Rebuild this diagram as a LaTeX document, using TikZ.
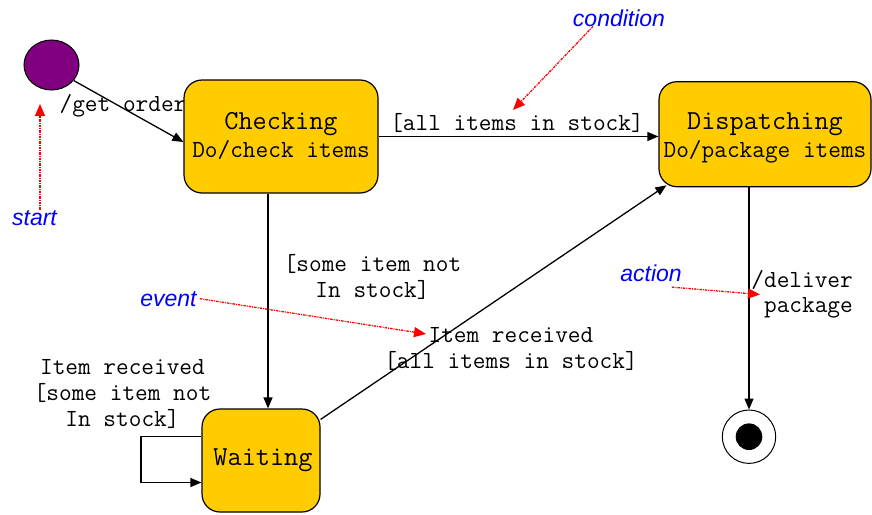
\documentclass[tikz,border=0pt]{standalone}
\usepackage{fontspec}
\setmainfont{Liberation Sans}
\setsansfont{Liberation Sans}
\usetikzlibrary{arrows.meta,shapes.geometric,backgrounds}
\definecolor{stategold}{HTML}{FFCC00}
\definecolor{initpurple}{HTML}{800080}
\begin{document}
\begin{tikzpicture}[x=1pt,y=-1pt,
  state/.style={draw=black,line width=1.2pt,fill=stategold,rounded corners=18pt,inner sep=0pt,align=center,font=\ttfamily\fontsize{24.6}{28}\selectfont},
  lbl/.style={inner sep=0pt,align=center,font=\ttfamily\fontsize{24.6}{25.7}\selectfont},
  note/.style={font=\sffamily\itshape\fontsize{23}{27}\selectfont,text=blue,inner sep=0pt},
  arr/.style={draw=black,line width=1.3pt,-{Triangle[length=11pt,width=9pt]}},
  notearr/.style={draw=red,line width=1.3pt,dash pattern=on 2.5pt off 1pt on 1pt off 1pt,-{Triangle[length=12pt,width=10pt]}}
]
\useasboundingbox (0,0) rectangle (872,514);

% states
\node[ellipse,draw=black,line width=1pt,fill=initpurple,minimum width=55pt,minimum height=50pt,inner sep=0pt] (init) at (51.5,65) {};
\node[state,minimum width=194pt,minimum height=113pt] (check) at (281,136.5)
  {\rule{0pt}{20pt}{\fontsize{27.5}{28}\selectfont Checking}\\Do/check items\rule[-6pt]{0pt}{6pt}};
\node[state,minimum width=212pt,minimum height=105pt] (disp) at (765,134.2)
  {\rule{0pt}{24pt}{\fontsize{27.5}{28}\selectfont Dispatching}\\Do/package items\rule[-5.8pt]{0pt}{5.8pt}};
\node[state,minimum width=118pt,minimum height=103pt,font=\ttfamily\fontsize{27.5}{28}\selectfont] (wait) at (261,460.5) {\hspace*{4pt}Waiting};
\node[circle,draw=black,line width=1pt,minimum size=53.4pt,inner sep=0pt] (final) at (749,436.7) {};
\node[circle,fill=black,minimum size=26.6pt,inner sep=0pt] (finaldot) at (final) {};

\begin{scope}[on background layer]
\fill[white] (0,0) rectangle (872,514);
\node[lbl,anchor=base] (getorder) at (123,111) {/get order};
\draw[arr] (init.-35) -- ([yshift=-5.5pt]check.west);
\end{scope}

% labels
\node[lbl,anchor=base] (stockall) at (517,130) {[all items in stock]};
\node[lbl,anchor=base] (notstock) at (372.5,297.3) {[some item not\\In stock]};
\node[lbl,anchor=base] (selflbl) at (122.5,426) {Item received\\{[}some item not\\In stock]};
\node[lbl,anchor=base] (recvlbl) at (511,368.3) {Item received\\{[}all items in stock]};
\node[lbl,anchor=base east,align=right] (deliver) at (853,312.7) {/deliver\\package};

% transitions
\draw[arr] (check.east) -- (check.east -| disp.west);
\coordinate (cw) at ([xshift=-13pt]check.south);
\draw[arr] (cw) -- (cw |- wait.north);
\draw[arr] ([yshift=-11pt]wait.north east) -- ([xshift=8pt,yshift=2pt]disp.south west);
\draw[arr] ([yshift=24pt]wait.west) -- ++(-60.3,0) |- ([yshift=-22pt]wait.west);
\draw[arr] (final |- disp.south) -- (final);

% annotations
\node[note,anchor=base] (startlbl) at (34.5,225) {start};
\node[note,anchor=base] (condlbl) at (619,26) {condition};
\node[note,anchor=base] (eventlbl) at (168.5,306) {event};
\node[note,anchor=base] (actionlbl) at (651,281.7) {action};
\coordinate (startpt) at (40,104);
\coordinate (condpt) at (513,110);
\coordinate (evpt) at (426,334);
\coordinate (actpt) at (760,294.5);
\draw[notearr] (startlbl.north -| startpt) -- (startpt);
\draw[notearr] ([xshift=-26pt]condlbl.south) -- (condpt);
\draw[notearr] ([xshift=3pt]eventlbl.east) -- (evpt);
\draw[notearr] ([xshift=-10pt,yshift=-5pt]actionlbl.south east) -- (actpt);
\end{tikzpicture}
\end{document}
